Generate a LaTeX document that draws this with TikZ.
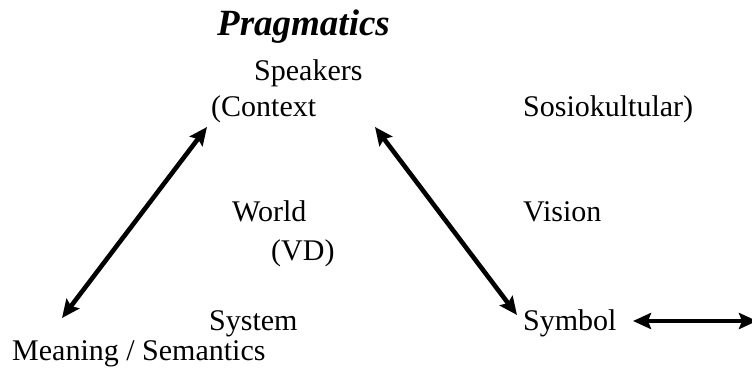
\documentclass[tikz,border=0pt]{standalone}
\usepackage{fontspec}
\setmainfont{Liberation Serif}
\usetikzlibrary{arrows.meta}
\begin{document}
\begin{tikzpicture}[x=1pt,y=-1pt,
  lbl/.style={anchor=base west,inner sep=0pt,font=\fontsize{30}{32}\selectfont},
  ttl/.style={anchor=base west,inner sep=0pt,font=\fontsize{37}{40}\selectfont\bfseries\itshape},
  dbl/.style={line width=4.6pt,{Stealth[length=18pt,width=16pt,inset=3pt]}-{Stealth[length=18pt,width=16pt,inset=3pt]}}]
\clip (0,0) rectangle (752,374);
\fill[white] (0,0) rectangle (752,374);
\node[ttl] (prag) at (217,36) {Pragmatics};
\node[lbl] (speak) at (254,81) {Speakers};
\node[lbl] (ctx) at (211,117) {(Context};
\node[lbl] (sosio) at (523,117) {Sosiokultular)};
\node[lbl] (world) at (232,222) {World};
\node[lbl] (vd) at (271,260) {(VD)};
\node[lbl] (vision) at (523,222) {Vision};
\node[lbl] (system) at (209,330) {System};
\node[lbl] (symbol) at (523,330) {Symbol};
\node[lbl] (mean) at (12,360) {Meaning / Semantics};
\coordinate (l1) at (62,318);
\coordinate (l2) at (207,127);
\coordinate (r1) at (375,127);
\coordinate (r2) at (517,315);
\coordinate (h1) at (633,321);
\coordinate (h2) at (757,321);
\draw[dbl] (l1) -- (l2);
\draw[dbl] (r1) -- (r2);
\draw[dbl] (h1) -- (h2);
\end{tikzpicture}
\end{document}
